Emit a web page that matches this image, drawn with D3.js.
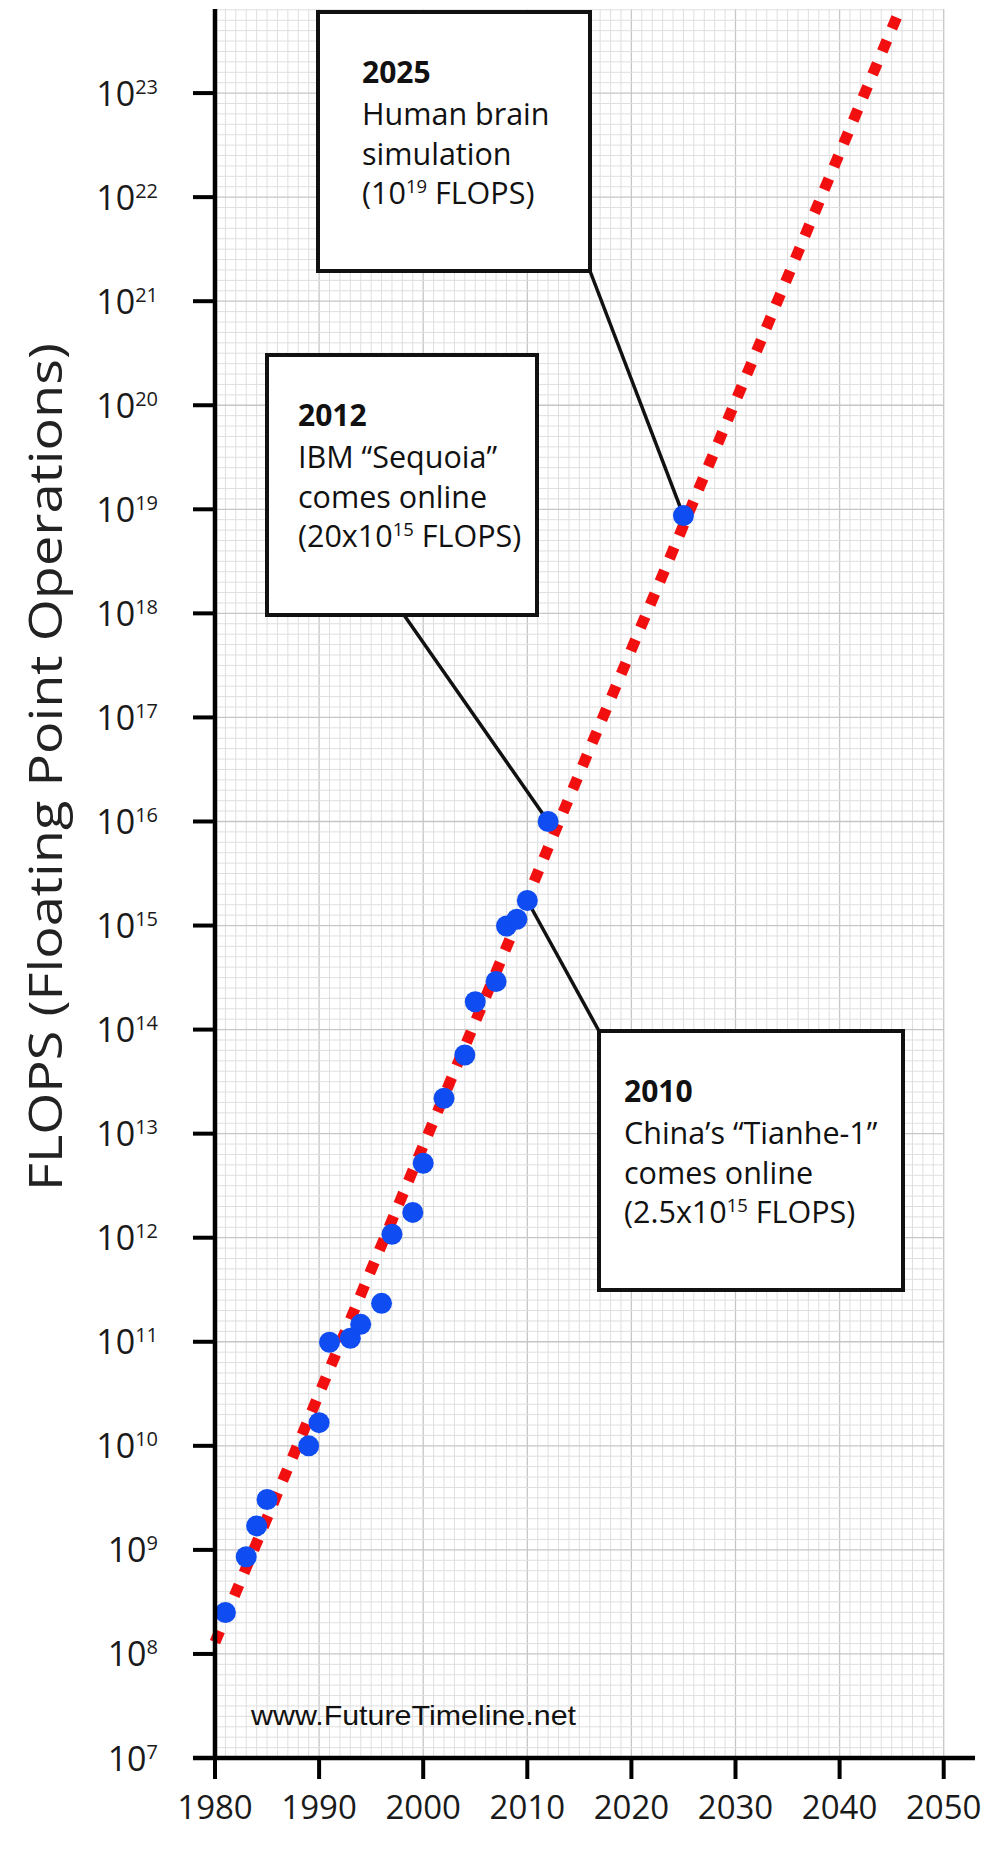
<!DOCTYPE html>
<html>
<head>
<meta charset="utf-8">
<script src="https://cdn.jsdelivr.net/npm/d3@7"></script>
<style>
  body { margin: 0; background: #fff; }
  svg { display: block; }
</style>
</head>
<body>
<svg id="chart" width="991" height="1850"></svg>
<script>
// supercomputer milestones (year, FLOPS)
const years = [1981, 1983, 1984, 1985, 1989, 1990, 1991, 1993, 1994, 1996, 1997, 1999,
  2000, 2002, 2004, 2005, 2007, 2008, 2009, 2010, 2012, 2025];
const flops = [2.5e8, 8.6e8, 1.7e9, 3.05e9, 1.0e10, 1.67e10, 9.9e10, 1.08e11, 1.47e11, 2.34e11,
  1.08e12, 1.75e12, 5.2e12, 2.19e13, 5.7e13, 1.85e14, 2.9e14, 9.9e14, 1.15e15, 1.74e15,
  1.0e16, 8.7e18];

// dotted red trend line
const trendYears = [1980, 2045.8];
const trendFlops = [1.3e8, 6.4e23];

const xTicks = [1980, 1990, 2000, 2010, 2020, 2030, 2040, 2050];
const yExponents = d3.range(7, 24);

// call-out boxes
const noteYears = [2025, 2012, 2010];
const noteTitles = ["2025", "2012", "2010"];
const noteLines = [
  ["Human brain", "simulation", "(10^19 FLOPS)"],
  ["IBM \u201cSequoia\u201d", "comes online", "(20x10^15 FLOPS)"],
  ["China\u2019s \u201cTianhe-1\u201d", "comes online", "(2.5x10^15 FLOPS)"]
];

const width = 991, height = 1850;
const svg = d3.select("#chart");

const x = d3.scaleLinear().domain([1980, 2050]).range([215, 943.7]);
const y = d3.scaleLog().domain([1e7, Math.pow(10, 23.808)]).range([1758, 9]);

const font = "'Open Sans', 'Noto Sans', sans-serif";

// write "10^19" style strings as tspans
function richText(sel, str, supSize, rise) {
  let up = false;
  str.split(/\^(\d+)/).forEach((p, i) => {
    if (!p) return;
    if (i % 2) {
      sel.append("tspan").attr("font-size", supSize).attr("dy", -rise).text(p);
      up = true;
    } else {
      sel.append("tspan").attr("dy", up ? rise : 0).text(p);
      up = false;
    }
  });
}

// GRAPH PAPER
const grid = svg.append("g");
const [y0, y1] = y.domain().map(Math.log10);
grid.selectAll(".vminor")
  .data(d3.range(1980, 2051))
  .enter().append("line")
  .attr("x1", d => x(d)).attr("x2", d => x(d))
  .attr("y1", y.range()[1]).attr("y2", y.range()[0])
  .style("stroke", d => d % 10 == 0 ? "#c6c6c6" : "#dfdfdf")
  .style("stroke-width", d => d % 10 == 0 ? 1.3 : 1);

grid.selectAll(".hminor")
  .data(d3.range(Math.round(y0 * 10), Math.floor(y1 * 10) + 1).map(d => d / 10))
  .enter().append("line")
  .attr("x1", x(1980)).attr("x2", x(2050))
  .attr("y1", d => y(Math.pow(10, d))).attr("y2", d => y(Math.pow(10, d)))
  .style("stroke", d => Math.abs(d - Math.round(d)) < 1e-6 ? "#c6c6c6" : "#dfdfdf")
  .style("stroke-width", d => Math.abs(d - Math.round(d)) < 1e-6 ? 1.3 : 1);

// TREND LINE
const trend = trendYears.map((d, i) => [d, trendFlops[i]]);
svg.append("path")
  .datum(trend)
  .attr("d", d3.line().x(d => x(d[0])).y(d => y(d[1])))
  .style("fill", "none")
  .style("stroke", "#f20f0f")
  .style("stroke-width", 11)
  .style("stroke-dasharray", "12 13");

// CALL-OUTS
const boxes = [
  { x: 318, y: 12, w: 272, h: 259, pad: 44, corner: [590, 271] },
  { x: 267, y: 355, w: 270, h: 260, pad: 31, corner: [404, 615] },
  { x: 599, y: 1031, w: 304, h: 259, pad: 25, corner: [599, 1031] }
];

svg.selectAll(".leader")
  .data(boxes)
  .enter().append("line")
  .attr("x1", d => d.corner[0]).attr("y1", d => d.corner[1])
  .attr("x2", (d, i) => x(noteYears[i]))
  .attr("y2", (d, i) => y(flops[years.indexOf(noteYears[i])]))
  .style("stroke", "#111")
  .style("stroke-width", 3.5);

// DOTS
svg.selectAll(".dot")
  .data(years)
  .enter().append("circle")
  .attr("cx", d => x(d))
  .attr("cy", (d, i) => y(flops[i]))
  .attr("r", 10.5)
  .attr("fill", "#0f4cf2");

const notes = svg.selectAll(".note")
  .data(boxes)
  .enter().append("g")
  .attr("transform", d => "translate(" + d.x + "," + d.y + ")");

notes.append("rect")
  .attr("width", d => d.w).attr("height", d => d.h)
  .style("fill", "#fff")
  .style("stroke", "#111")
  .style("stroke-width", 4);

notes.append("text")
  .attr("x", d => d.pad).attr("y", 71)
  .attr("font-family", font).attr("font-size", 30).attr("font-weight", 700)
  .attr("fill", "#111")
  .text((d, i) => noteTitles[i]);

notes.each(function (d, i) {
  noteLines[i].forEach((line, j) => {
    const t = d3.select(this).append("text")
      .attr("x", d.pad).attr("y", 113 + j * 39.5)
      .attr("font-family", font).attr("font-size", 30.5)
      .attr("fill", "#111");
    richText(t, line, 18.5, 11);
  });
});

// AXES
const axisColor = "#000";
svg.append("line")
  .attr("x1", x(1980)).attr("x2", x(1980))
  .attr("y1", y.range()[1]).attr("y2", y.range()[0] + 2)
  .style("stroke", axisColor).style("stroke-width", 4.5);
svg.append("line")
  .attr("x1", 193).attr("x2", 975)
  .attr("y1", y.range()[0]).attr("y2", y.range()[0])
  .style("stroke", axisColor).style("stroke-width", 4.5);

const yt = svg.selectAll(".ytick")
  .data(yExponents)
  .enter().append("g")
  .attr("transform", d => "translate(0," + y(Math.pow(10, d)) + ")");
yt.append("line")
  .attr("x1", 193).attr("x2", x(1980))
  .style("stroke", axisColor).style("stroke-width", 4);
yt.append("text")
  .attr("x", 158).attr("y", 12.5)
  .attr("text-anchor", "end")
  .attr("font-family", font).attr("font-size", 34)
  .attr("fill", "#1a1a1a")
  .each(function (d) { richText(d3.select(this), "10^" + d, 20, 12); });

const xt = svg.selectAll(".xtick")
  .data(xTicks)
  .enter().append("g")
  .attr("transform", d => "translate(" + x(d) + ",0)");
xt.append("line")
  .attr("y1", y.range()[0]).attr("y2", y.range()[0] + 21)
  .style("stroke", axisColor).style("stroke-width", 4);
xt.append("text")
  .attr("y", 1819)
  .attr("text-anchor", "middle")
  .attr("font-family", font).attr("font-size", 33)
  .attr("fill", "#1a1a1a")
  .text(d => d);

// axis title
svg.append("text")
  .attr("transform", "translate(62," + 767 + ") rotate(-90)")
  .attr("text-anchor", "middle")
  .attr("font-family", font).attr("font-size", 46)
  .attr("textLength", 848).attr("lengthAdjust", "spacingAndGlyphs")
  .attr("fill", "#222")
  .text("FLOPS (Floating Point Operations)");

// watermark
svg.append("text")
  .attr("x", 251).attr("y", 1725)
  .attr("font-family", "'Liberation Sans', Arial, sans-serif")
  .attr("font-size", 28)
  .attr("textLength", 325).attr("lengthAdjust", "spacingAndGlyphs")
  .attr("fill", "#111")
  .text("www.FutureTimeline.net");
</script>
</body>
</html>
